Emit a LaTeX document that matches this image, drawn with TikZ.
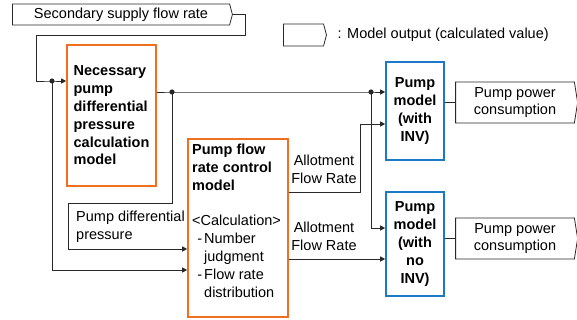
\documentclass[tikz,border=0pt]{standalone}
\usepackage{fontspec}
\setmainfont{Liberation Sans}
\usetikzlibrary{arrows.meta,shapes.symbols}
\definecolor{modelorange}{RGB}{240,112,32}
\definecolor{modelblue}{RGB}{30,120,200}
\definecolor{wire}{RGB}{40,40,40}

\begin{document}
\begin{tikzpicture}[x=1pt,y=-1pt,
  every node/.style={font=\fontsize{14.5}{17.8}\selectfont, inner sep=0pt},
  boldtext/.style={font=\fontsize{14.5}{17.8}\selectfont\bfseries},
  outbox/.style={draw=wire, line width=0.8pt, shape=signal, signal to=east,
    signal pointer angle=#1, align=center},
  orangebox/.style={draw=modelorange, line width=1.6pt},
  bluebox/.style={draw=modelblue, line width=1.6pt},
  wireline/.style={draw=wire, line width=0.8pt},
  arr/.style={wireline, -{Triangle[length=5pt,width=5pt]}},
  dot/.style={fill=wire}
]
\useasboundingbox (0,0) rectangle (577,320);

% model output boxes
\node[outbox=150, minimum width=220pt, minimum height=21pt] (sec) at (121,14.5) {Secondary supply flow rate};
\node[outbox=150, minimum width=43pt, minimum height=22pt] (legend) at (303.5,35) {};
\node[anchor=west] (legendtxt) at (337.5,35) {:\hspace{5.5pt}Model output (calculated value)};

% calculation models
\node[orangebox, boldtext, align=left, minimum width=89pt, minimum height=141pt] (nec) at (111.5,115.5)
  {Necessary\\pump\\differential\\pressure\\calculation\\model};
\node[orangebox, minimum width=100pt, minimum height=178pt] (pfrc) at (238,228) {};
\node[anchor=north west, align=left] (pfrctxt) at (192,144)
  {\textbf{Pump flow}\\\textbf{rate control}\\\textbf{model}\\[17.8pt]
   <Calculation>\\
   \makebox[12pt][r]{-\hspace{2pt}}Number\\\hspace{12pt}judgment\\
   \makebox[12pt][r]{-\hspace{2pt}}Flow rate\\\hspace{12pt}distribution};

% pump models
\node[bluebox, boldtext, align=center, minimum width=58pt, minimum height=98pt] (pinv) at (415,111)
  {Pump\\model\\(with\\INV)};
\node[bluebox, boldtext, align=center, minimum width=58pt, minimum height=104pt] (pno) at (415,244)
  {Pump\\model\\(with\\no\\INV)};

% outputs
\node[outbox=162, minimum width=122pt, minimum height=41pt] (pow1) at (515,102.5) {Pump power\\consumption};
\node[outbox=162, minimum width=122pt, minimum height=41pt] (pow2) at (515,238.5) {Pump power\\consumption};

% connector labels
\node[anchor=north west, align=left] (pdp) at (76,211) {Pump differential\\pressure};
\node[anchor=north, align=center] (allot1) at (324,155) {Allotment\\Flow Rate};
\node[anchor=north, align=center] (allot2) at (324,222) {Allotment\\Flow Rate};

% junctions and bends
\coordinate (c1) at (245,35);
\coordinate (c2) at (36,35);
\coordinate (j1) at (52,81);
\coordinate (j4) at (52,270);
\coordinate (j2) at (172,92);
\coordinate (j3) at (371,92);
\coordinate (c3) at (68,203);
\coordinate (c4) at (68,249);
\coordinate (c5) at (371,228);
\coordinate (c6) at (360,192);
\coordinate (c7) at (360,124);
\coordinate (c8) at (360,259);

% connectors
\draw[arr] (sec.east) -| (c1) -- (c2) |- (j1) -- (j1 -| nec.west);
\draw[arr] (j1) -- (j4) -- (j4 -| pfrc.west);
\draw[arr] (j2 -| nec.east) -- (j2) -- (j3) -- (j3 -| pinv.west);
\draw[arr] (j2) |- (c3) -- (c4) -- (c4 -| pfrc.west);
\draw[arr] (j3) -- (c5) -- (c5 -| pno.west);
\draw[arr] (c6 -| pfrc.east) -- (c6) -- (c7) -- (c7 -| pinv.west);
\draw[arr] (c8 -| pfrc.east) -- (c8 -| pno.west);
\draw[wireline] (pow1.west -| pinv.east) -- (pow1.west);
\draw[wireline] (pow2.west -| pno.east) -- (pow2.west);

\fill[dot] (j1) circle (2.6pt);
\fill[dot] (j2) circle (2.6pt);
\fill[dot] (j3) circle (2.6pt);
\end{tikzpicture}
\end{document}
